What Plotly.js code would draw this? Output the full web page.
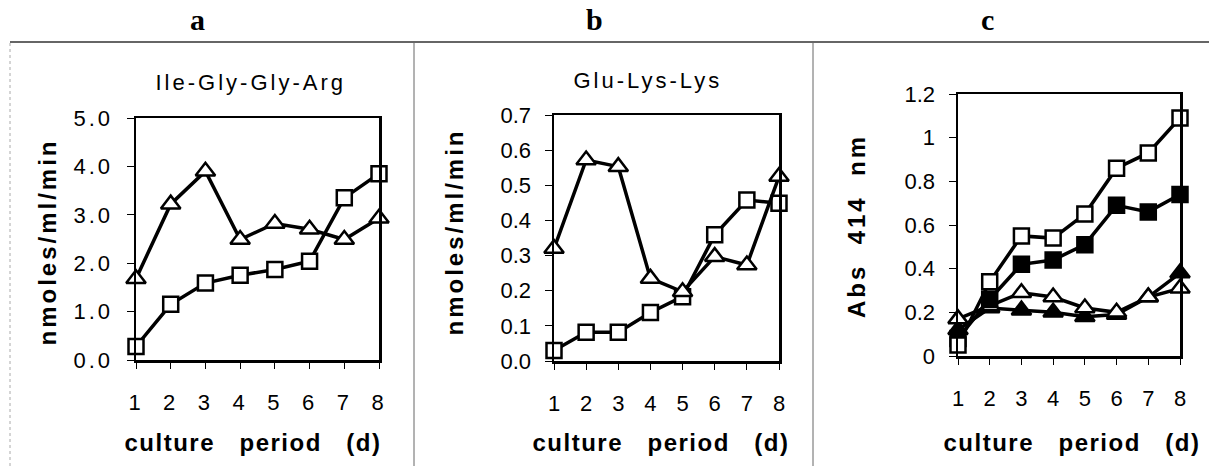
<!DOCTYPE html>
<html>
<head>
<meta charset="utf-8">
<script src="https://cdn.plot.ly/plotly-3.0.1.min.js"></script>
<style>
html,body{margin:0;padding:0;background:#fff;}
#chart{width:1209px;height:466px;}
.xtick text,.ytick text{letter-spacing:3px;}
</style>
</head>
<body>
<div id="chart"></div>
<script>
// ---- data ----
const days = [1, 2, 3, 4, 5, 6, 7, 8];
const dayLabels = ['1', '2', '3', '4', '5', '6', '7', '8'];

// panel a : Ile-Gly-Gly-Arg (nmoles/ml/min)
const aSquares   = [0.28, 1.15, 1.59, 1.75, 1.87, 2.04, 3.35, 3.85];
const aTriangles = [1.68, 3.22, 3.90, 2.49, 2.82, 2.70, 2.49, 2.93];

// panel b : Glu-Lys-Lys (nmoles/ml/min)
const bSquares   = [0.030, 0.082, 0.082, 0.138, 0.183, 0.359, 0.458, 0.449];
const bTriangles = [0.320, 0.572, 0.553, 0.235, 0.197, 0.297, 0.273, 0.525];

// panel c : Abs 414 nm
const cOpenSquares     = [0.05, 0.34, 0.55, 0.54, 0.65, 0.86, 0.93, 1.09];
const cFilledSquares   = [0.08, 0.26, 0.42, 0.44, 0.51, 0.69, 0.66, 0.74];
const cOpenTriangles   = [0.17, 0.23, 0.29, 0.27, 0.22, 0.20, 0.27, 0.31];
const cFilledTriangles = [0.12, 0.22, 0.21, 0.20, 0.18, 0.19, 0.27, 0.38];

const panelLetters = ['a', 'b', 'c'];
const subtitles = ['Ile-Gly-Gly-Arg', 'Glu-Lys-Lys'];
const xTitle = 'culture\u00a0\u00a0\u00a0period\u00a0\u00a0\u00a0(d)';
const yTitles = ['nmoles/ml/min', 'nmoles/ml/min', 'Abs\u00a0\u00a0414\u00a0\u00a0nm'];

// ---- styling ----
const W = 1209, H = 466;
const px = v => v / W;
const py = v => (H - v) / H;
const SANS = 'Liberation Sans, Arial, Helvetica, sans-serif';

function trace(y, xa, ya, symbol, filled) {
  const isTri = symbol === 'triangle-up';
  return {
    x: days, y: y, xaxis: xa, yaxis: ya, type: 'scatter', mode: 'lines+markers',
    cliponaxis: false, showlegend: false, hoverinfo: 'skip',
    line: {color: '#000', width: 3.5},
    marker: {symbol: symbol, size: isTri ? 17 : 15,
             color: filled ? '#000' : '#fff',
             line: {color: '#000', width: 2.5}}
  };
}

const data = [
  trace(aSquares, 'x', 'y', 'square', false),
  trace(aTriangles, 'x', 'y', 'triangle-up', false),
  trace(bSquares, 'x2', 'y2', 'square', false),
  trace(bTriangles, 'x2', 'y2', 'triangle-up', false),
  trace(cFilledTriangles, 'x3', 'y3', 'triangle-up', true),
  trace(cOpenTriangles, 'x3', 'y3', 'triangle-up', false),
  trace(cFilledSquares, 'x3', 'y3', 'square', true),
  trace(cOpenSquares, 'x3', 'y3', 'square', false)
];

function xax(x0, x1, anchor) {
  return {
    domain: [px(x0), px(x1)], anchor: anchor, range: [1, 8],
    tickmode: 'array', tickvals: days, ticktext: dayLabels,
    showline: true, mirror: true, linewidth: 2.5, linecolor: '#000',
    ticks: 'outside', ticklen: 6, tickwidth: 1, tickcolor: '#000',
    ticklabelstandoff: 15,
    showgrid: false, zeroline: false, fixedrange: true,
    tickfont: {family: SANS, size: 22, color: '#000'}
  };
}
function yax(top, bottom, range, dtick, fmt, anchor) {
  return {
    domain: [py(bottom), py(top)], anchor: anchor, range: range, dtick: dtick,
    tickformat: fmt,
    showline: true, mirror: true, linewidth: 2.5, linecolor: '#000',
    ticks: 'outside', ticklen: 7, tickwidth: 1, tickcolor: '#000',
    ticklabelstandoff: 9,
    showgrid: false, zeroline: false, fixedrange: true,
    tickfont: {family: SANS, size: 22, color: '#000'}
  };
}

const annotations = [];
// panel letters
[197, 594, 987].forEach((x, i) => annotations.push({
  xref: 'paper', yref: 'paper', x: px(x), y: py(19), xanchor: 'center', yanchor: 'middle',
  text: '<b>' + panelLetters[i] + '</b>', showarrow: false,
  font: {family: 'Liberation Serif, Times New Roman, serif', size: 30, color: '#000'}
}));
// subtitles
[[250, 82], [648, 80]].forEach((p, i) => annotations.push({
  xref: 'paper', yref: 'paper', x: px(p[0]), y: py(p[1]), xanchor: 'center', yanchor: 'middle',
  text: subtitles[i], showarrow: false,
  font: {family: SANS, size: 22, color: '#000'}
}));
// x titles
[253, 661, 1072].forEach(x => annotations.push({
  xref: 'paper', yref: 'paper', x: px(x), y: py(442), xanchor: 'center', yanchor: 'middle',
  text: '<b>' + xTitle + '</b>', showarrow: false,
  font: {family: SANS, size: 24, color: '#000'}
}));
// y titles
[[47, 242], [455, 232], [856, 226]].forEach((p, i) => annotations.push({
  xref: 'paper', yref: 'paper', x: px(p[0]), y: py(p[1]), xanchor: 'center', yanchor: 'middle',
  text: '<b>' + yTitles[i] + '</b>', showarrow: false, textangle: -90,
  font: {family: SANS, size: 24, color: '#000'}
}));

const shapes = [
  {type: 'line', xref: 'paper', yref: 'paper', x0: px(10), x1: 1, y0: py(42), y1: py(42),
   line: {color: '#333', width: 1.5}},
  {type: 'line', xref: 'paper', yref: 'paper', x0: px(10), x1: px(10), y0: 0, y1: py(42),
   line: {color: '#aaa', width: 1, dash: 'dot'}},
  {type: 'line', xref: 'paper', yref: 'paper', x0: px(414), x1: px(414), y0: 0, y1: py(42),
   line: {color: '#666', width: 1}},
  {type: 'line', xref: 'paper', yref: 'paper', x0: px(813), x1: px(813), y0: 0, y1: py(42),
   line: {color: '#666', width: 1}}
];

const layout = {
  width: W, height: H, margin: {l: 0, r: 0, t: 0, b: 0},
  paper_bgcolor: '#fff', plot_bgcolor: 'rgba(0,0,0,0)',
  showlegend: false,
  xaxis: xax(136, 379, 'y'),
  yaxis: yax(118, 360, [0, 5], 1, '.1f', 'x'),
  xaxis2: xax(554, 779, 'y2'),
  yaxis2: yax(115, 361, [0, 0.7], 0.1, '.1f', 'x2'),
  xaxis3: xax(958, 1180, 'y3'),
  yaxis3: yax(94, 356, [0, 1.2], 0.2, '', 'x3'),
  annotations: annotations,
  shapes: shapes
};

Plotly.newPlot('chart', data, layout, {staticPlot: true, displayModeBar: false}).then(() => {
  // letter-spaced titles and subtitles, like the original typesetting
  document.querySelectorAll('.annotation-text').forEach(t => {
    const s = t.textContent;
    if (s.indexOf('culture') === 0) t.style.letterSpacing = '1.5px';
    else if (s.length > 1) t.style.letterSpacing = '3px';
  });
});
</script>
</body>
</html>
